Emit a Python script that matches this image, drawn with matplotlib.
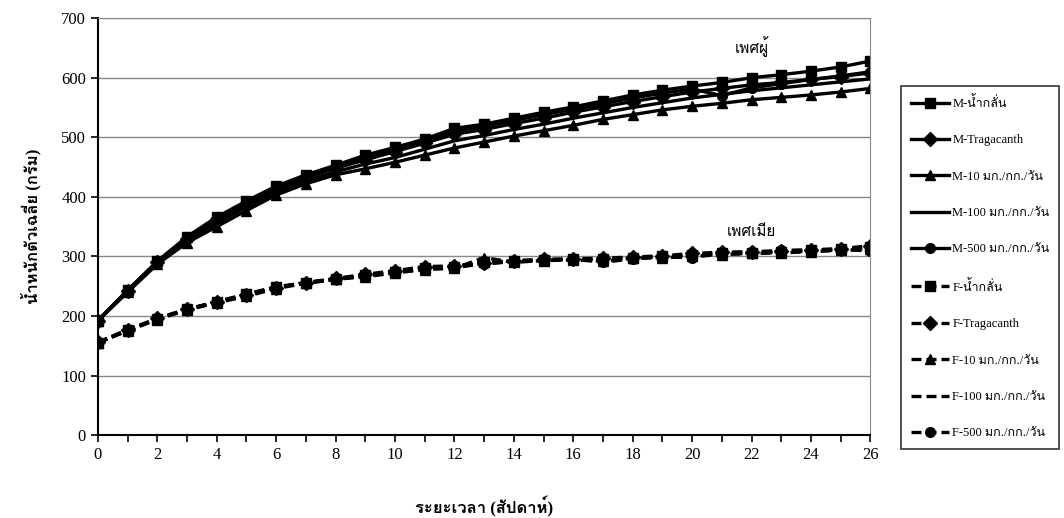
import numpy as np
import matplotlib.pyplot as plt
from matplotlib import font_manager
from fontTools.ttLib import TTFont

# find installed fonts that carry Thai glyphs
thai_fams = []
for f in font_manager.fontManager.ttflist:
    try:
        tt = TTFont(f.fname, fontNumber=0, lazy=True)
        cmap = tt.getBestCmap()
        if cmap and 0x0E01 in cmap and 0x0E19 in cmap:
            if f.name not in thai_fams:
                thai_fams.append(f.name)
    except Exception:
        pass

plt.rcParams['font.family'] = ['Liberation Serif'] + thai_fams + ['DejaVu Sans']

weeks = np.arange(0, 27)

# male groups
m_water = [192, 243, 292, 333, 366, 393, 418, 437, 453, 470, 483, 497, 515, 522, 532, 542, 551, 561, 571, 579, 586, 592, 600, 605, 611, 618, 628]
m_trag = [192, 242, 290, 330, 362, 388, 412, 432, 448, 462, 476, 490, 505, 513, 523, 532, 542, 551, 560, 568, 576, 582, 588, 592, 597, 602, 608]
m_10 = [192, 240, 287, 323, 350, 377, 403, 422, 437, 447, 458, 470, 482, 492, 502, 511, 520, 530, 538, 546, 552, 557, 563, 567, 571, 576, 582]
m_100 = [192, 241, 289, 327, 356, 383, 408, 427, 442, 455, 466, 480, 494, 503, 513, 522, 532, 541, 550, 558, 566, 572, 578, 583, 588, 593, 598]
m_500 = [193, 243, 291, 332, 364, 391, 416, 435, 451, 467, 480, 494, 510, 518, 528, 538, 547, 556, 566, 574, 581, 570, 583, 590, 597, 603, 610]

# female groups
f_water = [155, 176, 195, 211, 224, 237, 249, 256, 262, 268, 274, 280, 282, 291, 292, 294, 295, 296, 298, 300, 302, 305, 306, 308, 310, 312, 315]
f_trag = [156, 177, 196, 212, 223, 235, 247, 256, 263, 270, 276, 283, 284, 289, 293, 295, 296, 297, 299, 301, 305, 307, 308, 309, 311, 313, 318]
f_10 = [155, 175, 194, 210, 222, 233, 246, 255, 262, 266, 272, 278, 280, 298, 290, 293, 294, 292, 297, 298, 300, 303, 305, 306, 308, 310, 312]
f_100 = [155, 176, 195, 211, 223, 236, 248, 255, 261, 267, 273, 279, 281, 288, 291, 293, 295, 295, 297, 299, 301, 304, 305, 307, 309, 311, 313]
f_500 = [155, 176, 195, 211, 224, 236, 248, 256, 262, 269, 275, 281, 283, 287, 292, 294, 296, 290, 296, 299, 298, 306, 307, 310, 311, 312, 309]

labels = ["M-น้ำกลั่น", "M-Tragacanth", "M-10 มก./กก./วัน", "M-100 มก./กก./วัน", "M-500 มก./กก./วัน",
          "F-น้ำกลั่น", "F-Tragacanth", "F-10 มก./กก./วัน", "F-100 มก./กก./วัน", "F-500 มก./กก./วัน"]
series = [m_water, m_trag, m_10, m_100, m_500, f_water, f_trag, f_10, f_100, f_500]
markers = ['s', 'D', '^', None, 'o', 's', 'D', '^', None, 'o']

fig = plt.figure(figsize=(10.64, 5.18), dpi=100)
ax = fig.add_axes([0.092, 0.160, 0.726, 0.805])

lines = []
for i, (vals, lab, mk) in enumerate(zip(series, labels, markers)):
    ls = '-' if i < 5 else (0, (3, 1.5))
    ln, = ax.plot(weeks, vals, color='black', linestyle=ls, linewidth=2.4,
                  marker=mk, markersize=7, label=lab)
    lines.append(ln)

ax.set_xlim(0, 26)
ax.set_ylim(0, 700)
ax.set_xticks(np.arange(0, 27, 2))
ax.set_xticks(np.arange(0, 27, 1), minor=True)
ax.set_yticks(np.arange(0, 701, 100))
ax.tick_params(axis='both', direction='out', labelsize=12, length=5, width=1.2)
ax.tick_params(axis='x', which='minor', length=5, width=1.2)
ax.grid(axis='y', color='#888888', linewidth=1.0)
ax.set_axisbelow(True)
for side in ['left', 'bottom']:
    ax.spines[side].set_linewidth(1.5)
for side in ['top', 'right']:
    ax.spines[side].set_color('#888888')

ax.set_xlabel("ระยะเวลา (สัปดาห์)", fontsize=12, fontweight='bold', labelpad=24)
ax.set_ylabel("น้ำหนักตัวเฉลี่ย (กรัม)", fontsize=12, fontweight='bold', labelpad=14)

ax.text(22, 652, "เพศผู้", fontsize=11, ha='center', va='center')
ax.text(22, 340, "เพศเมีย", fontsize=11, ha='center', va='center')

leg = fig.legend(handles=lines, loc='upper left', bbox_to_anchor=(0.841, 0.846),
                 fontsize=9, labelspacing=1.95, handlelength=3.0, handletextpad=0.3,
                 frameon=True, fancybox=False, edgecolor='black', borderpad=0.8)
leg.get_frame().set_linewidth(1.2)

plt.savefig("out.png", dpi=100)
